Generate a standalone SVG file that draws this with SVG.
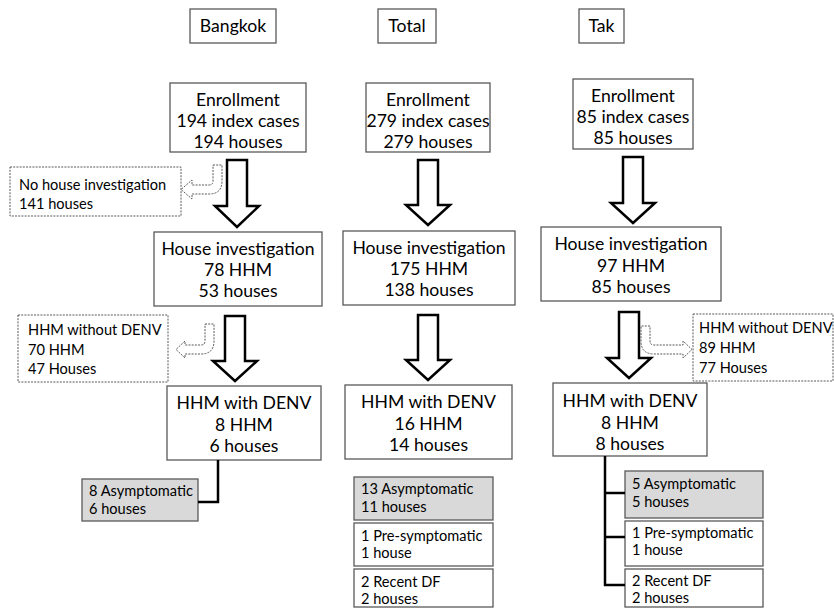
<svg xmlns="http://www.w3.org/2000/svg" width="834" height="608" viewBox="0 0 834 608">
<style>
.bg{fill:#ffffff}
.box{fill:#ffffff;stroke:#595959;stroke-width:1.3}
.gray{fill:#d9d9d9;stroke:#595959;stroke-width:1.3}
.dbox{fill:#ffffff;stroke:#595959;stroke-width:1;stroke-dasharray:2 1.2}
.big{fill:#ffffff;stroke:#000000;stroke-width:2.5;stroke-linejoin:miter}
.bent{fill:#ffffff;stroke:#595959;stroke-width:1;stroke-dasharray:2 1.2}
.line{fill:none;stroke:#000000;stroke-width:2.5}
text{font-family:Lato,"Open Sans","Liberation Sans",sans-serif;fill:#000000}
.l{font-size:17.6px;text-anchor:middle}
.s{font-size:14.6px}
</style>
<rect class="bg" x="0" y="0" width="834" height="608"/>

<g id="hdr-bangkok"><rect class="box" x="190" y="9" width="86" height="34"/><text class="l" x="233" y="32">Bangkok</text></g>
<g id="hdr-total"><rect class="box" x="378" y="9" width="58" height="34"/><text class="l" x="407" y="32">Total</text></g>
<g id="hdr-tak"><rect class="box" x="579" y="9" width="45" height="34"/><text class="l" x="601.5" y="32">Tak</text></g>

<g id="b-enroll"><rect class="box" x="170" y="83" width="136" height="69"/>
<text class="l" x="238" y="106">Enrollment</text><text class="l" x="238" y="127">194 index cases</text><text class="l" x="238" y="148">194 houses</text></g>
<g id="t-enroll"><rect class="box" x="366" y="83" width="124" height="69"/>
<text class="l" x="428" y="106">Enrollment</text><text class="l" x="428" y="127">279 index cases</text><text class="l" x="428" y="148">279 houses</text></g>
<g id="k-enroll"><rect class="box" x="573" y="79" width="120" height="70"/>
<text class="l" x="633" y="102">Enrollment</text><text class="l" x="633" y="123">85 index cases</text><text class="l" x="633" y="144">85 houses</text></g>

<g id="b-nohouse"><rect class="dbox" x="10" y="167" width="171" height="49"/>
<text class="s" x="19" y="190">No house investigation</text><text class="s" x="19" y="209">141 houses</text></g>

<g id="b-house"><rect class="box" x="154" y="232" width="168" height="74"/>
<text class="l" x="238" y="255">House investigation</text><text class="l" x="238" y="276">78 HHM</text><text class="l" x="238" y="297">53 houses</text></g>
<g id="t-house"><rect class="box" x="343" y="231" width="172" height="74"/>
<text class="l" x="429" y="254">House investigation</text><text class="l" x="429" y="275">175 HHM</text><text class="l" x="429" y="296">138 houses</text></g>
<g id="k-house"><rect class="box" x="541" y="227" width="180" height="74"/>
<text class="l" x="631" y="250">House investigation</text><text class="l" x="631" y="271.5">97 HHM</text><text class="l" x="631" y="293">85 houses</text></g>

<g id="b-without"><rect class="dbox" x="18" y="315" width="150" height="67"/>
<text class="s" x="28" y="335">HHM without DENV</text><text class="s" x="28" y="355">70 HHM</text><text class="s" x="28" y="374">47 Houses</text></g>
<g id="k-without"><rect class="dbox" x="693" y="314" width="140" height="67"/>
<text class="s" x="699" y="333">HHM without DENV</text><text class="s" x="699" y="353">89 HHM</text><text class="s" x="699" y="373">77 Houses</text></g>

<g id="b-denv"><rect class="box" x="167" y="386" width="154" height="74"/>
<text class="l" x="244" y="409">HHM with DENV</text><text class="l" x="244" y="431">8 HHM</text><text class="l" x="244" y="452">6 houses</text></g>
<g id="t-denv"><rect class="box" x="345" y="385" width="167" height="74"/>
<text class="l" x="428.5" y="408">HHM with DENV</text><text class="l" x="428.5" y="430">16 HHM</text><text class="l" x="428.5" y="451">14 houses</text></g>
<g id="k-denv"><rect class="box" x="553" y="383" width="154" height="73"/>
<text class="l" x="630" y="407">HHM with DENV</text><text class="l" x="630" y="429">8 HHM</text><text class="l" x="630" y="450">8 houses</text></g>

<g id="b-asym"><rect class="gray" x="82" y="479" width="116" height="42"/>
<text class="s" x="89" y="496">8 Asymptomatic</text><text class="s" x="89" y="514">6 houses</text></g>

<g id="t-asym"><rect class="gray" x="354" y="477" width="139" height="43"/>
<text class="s" x="361" y="494">13 Asymptomatic</text><text class="s" x="361" y="512">11 houses</text></g>
<g id="t-pre"><rect class="box" x="354" y="523" width="139" height="43"/>
<text class="s" x="361" y="541">1 Pre-symptomatic</text><text class="s" x="361" y="558">1 house</text></g>
<g id="t-recent"><rect class="box" x="354" y="569" width="139" height="38"/>
<text class="s" x="361" y="587">2 Recent DF</text><text class="s" x="361" y="604">2 houses</text></g>

<g id="k-asym"><rect class="gray" x="625" y="471" width="138" height="47"/>
<text class="s" x="632" y="489">5 Asymptomatic</text><text class="s" x="632" y="507">5 houses</text></g>
<g id="k-pre"><rect class="box" x="625" y="521" width="138" height="45"/>
<text class="s" x="632" y="538">1 Pre-symptomatic</text><text class="s" x="632" y="555">1 house</text></g>
<g id="k-recent"><rect class="box" x="625" y="569" width="138" height="38"/>
<text class="s" x="632" y="586">2 Recent DF</text><text class="s" x="632" y="603">2 houses</text></g>

<g id="connectors">
<polygon class="big" points="227,160 247,160 247,206 259,206 237,227 215,206 227,206"/>
<polygon class="big" points="418,160 438,160 438,205 450,205 428,225 406,205 418,205"/>
<polygon class="big" points="623,157 643,157 643,203 655,203 633,223 611,203 623,203"/>
<polygon class="big" points="225,316 245,316 245,361 257,361 235,381 213,361 225,361"/>
<polygon class="big" points="418,315 438,315 438,360 450,360 428,380 406,360 418,360"/>
<polygon class="big" points="619,312 639,312 639,358 651,358 629,378 607,358 619,358"/>
<path class="bent" d="M213,165 H222 V181 Q222,194 209,194 H192 V199 L181,189.5 L192,180 V185 H209 Q213,185 213,181 Z"/>
<path class="bent" d="M205,324 H214 V341 Q214,354 201,354 H185 V358 L176,349.5 L185,341 V345 H201 Q205,345 205,341 Z"/>
<path class="bent" d="M650,326 H641 V341 Q641,354 654,354 H683 V358 L692,349.5 L683,341 V345 H654 Q650,345 650,341 Z"/>
<path class="line" d="M218,460 V502 H198"/>
<path class="line" d="M605,456 V586"/>
<path class="line" d="M604,493 H625 M604,537 H625 M604,585 H625"/>
</g>
</svg>
